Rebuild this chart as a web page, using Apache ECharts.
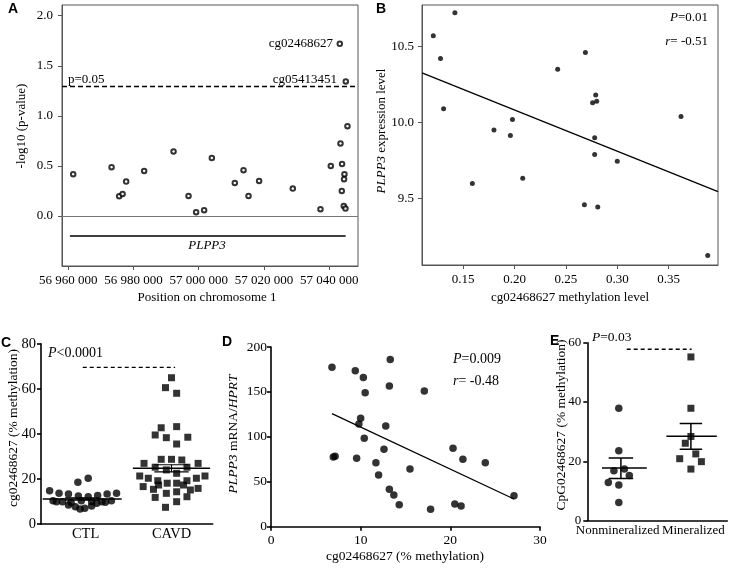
<!DOCTYPE html>
<html>
<head>
<meta charset="utf-8">
<script src="https://cdn.jsdelivr.net/npm/echarts@6/dist/echarts.min.js"></script>
<style>
  html, body { margin: 0; padding: 0; background: #fff; }
  #fig { width: 730px; height: 568px; }
</style>
</head>
<body>
<div id="fig"></div>
<script>
// ---- panel A: CpG sites along chromosome 1 ----
var aPos = [56961530, 56973290, 56975620, 56976660, 56977760, 56983280, 56992280, 56996870,
            56999200, 57001650, 57004010, 57011050, 57013720, 57015250, 57018500, 57028820,
            57037300, 57040460, 57043430, 57043830, 57043920, 57044650, 57044530, 57044440,
            57044960, 57043220, 57045060, 57045570];
var aLogP = [0.417, 0.487, 0.197, 0.22, 0.344, 0.45, 0.644, 0.2,
             0.037, 0.057, 0.58, 0.33, 0.457, 0.2, 0.35, 0.273,
             0.067, 0.5, 0.724, 0.25, 0.52, 0.417, 0.367, 0.1,
             0.074, 1.72, 1.344, 0.897];
var aPosTicks = [56960000, 56980000, 57000000, 57020000, 57040000];
var aLogTicks = [0, 0.5, 1, 1.5, 2];
var aSigLevel = 1.301;           // p = 0.05
var aGeneSpan = [56960520, 57045020];
var aGeneLevel = -0.2;

// ---- panel B: methylation vs expression ----
var bMeth = [0.142, 0.121, 0.128, 0.131, 0.180, 0.196, 0.198, 0.242, 0.269, 0.279, 0.280,
             0.276, 0.278, 0.362, 0.278, 0.300, 0.159, 0.208, 0.268, 0.281, 0.388];
var bExpr = [10.72, 10.57, 10.42, 10.09, 9.95, 9.915, 10.02, 10.35, 10.46, 10.18, 10.14,
             10.13, 9.90, 10.04, 9.79, 9.745, 9.60, 9.635, 9.46, 9.445, 9.127];
var bFitX = [0.110, 0.398];
var bFitY = [10.325, 9.547];
var bXTicks = [0.15, 0.20, 0.25, 0.30, 0.35];
var bYTicks = [9.5, 10.0, 10.5];

// ---- panel C: CTL vs CAVD ----
var cCtlX = [0.10, 0.21, 0.32, 0.43, 0.55, 0.435, 0.55, 0.66, 0.77, 0.88, 0.14, 0.25, 0.35,
             0.47, 0.59, 0.71, 0.82, 0.40, 0.455, 0.51, 0.32, 0.59, 0.65, 0.18, 0.75];
var cCtlY = [14.8, 13.6, 13.3, 18.5, 20.3, 12.4, 12.1, 12.6, 13.3, 13.6, 10.3, 9.9, 9.5,
             10.3, 9.9, 9.9, 10.3, 7.7, 6.7, 7.0, 8.4, 8.0, 9.2, 9.9, 9.6];
var cCavdX = [1.52, 1.45, 1.58, 1.40, 1.33, 1.58, 1.46, 1.71, 1.58, 1.20, 1.40, 1.52, 1.64,
              1.83, 1.33, 1.46, 1.58, 1.70, 1.15, 1.25, 1.36, 1.47, 1.58, 1.70, 1.81, 1.91,
              1.19, 1.31, 1.46, 1.58, 1.74, 1.83, 1.33, 1.58, 1.70, 1.45, 1.66, 1.37];
var cCavdY = [64.9, 60.5, 58.0, 42.7, 39.5, 43.2, 38.3, 38.5, 35.5, 26.9, 28.7, 28.7, 28.4,
              26.9, 25.2, 24.0, 22.5, 25.2, 21.3, 20.3, 19.2, 18.1, 18.1, 19.2, 20.3, 21.3,
              16.6, 15.4, 13.6, 14.3, 15.1, 15.8, 11.8, 9.9, 12.1, 7.4, 17.3, 17.3];
var cGroups = ['CTL', 'CAVD'];
var cMean = [11.1, 24.7];
var cSemLo = [10.6, 23.1];
var cSemHi = [11.6, 26.3];
var cBracket = 69.5;

// ---- panel D: methylation vs mRNA ----
var dMeth = [6.8, 9.4, 10.3, 10.5, 10.0, 9.8, 10.4, 6.95, 7.15, 9.55, 13.3, 13.2, 12.8, 12.6,
             11.7, 12.0, 13.2, 13.7, 14.3, 15.5, 17.1, 17.8, 20.3, 20.5, 21.2, 21.4, 23.9, 27.1];
var dMrna = [177.5, 173.6, 166, 149, 120.7, 114.3, 98.4, 77.5, 78.5, 76.1, 186, 156.5, 112, 86.3,
             71.3, 57.5, 41.6, 35.3, 24.3, 64.2, 151, 19.4, 87.3, 25.3, 23, 75, 71.3, 34.5];
var dFitX = [6.8, 27.1];
var dFitY = [125.8, 30.8];

// ---- panel E: nonmineralized vs mineralized ----
var eNonX = [0.45, 0.45, 0.38, 0.53, 0.60, 0.30, 0.45, 0.45];
var eNonY = [37.9, 23.6, 16.8, 17.4, 15.2, 12.9, 12.0, 6.1];
var eMinX = [1.48, 1.48, 1.48, 1.40, 1.55, 1.32, 1.63, 1.48];
var eMinY = [55.2, 37.9, 28.4, 26.1, 22.5, 20.9, 19.9, 17.4];
var eGroups = ['Nonmineralized', 'Mineralized'];
var eMean = [17.8, 28.5];
var eSemLo = [14.2, 24.1];
var eSemHi = [21.1, 32.8];
var eBracket = 57.8;

var serif = 'Liberation Serif';
var sans = 'Liberation Sans';

function zip(xs, ys) { return xs.map(function (x, i) { return [x, ys[i]]; }); }

function seg(g, xs, ys, style) {
  return {
    type: 'line', xAxisIndex: g, yAxisIndex: g, data: zip(xs, ys),
    symbol: 'none', silent: true, z: 3,
    lineStyle: Object.assign({ color: '#000', width: 1 }, style || {})
  };
}

function pts(g, xs, ys, symbol, size, itemStyle) {
  return {
    type: 'scatter', xAxisIndex: g, yAxisIndex: g, data: zip(xs, ys),
    symbol: symbol, symbolSize: size, silent: true, z: 4,
    itemStyle: itemStyle || { color: '#000' }
  };
}

function axis(g, o) {
  var col = o.color || '#000', w = o.width || 1;
  var a = {
    gridIndex: g, type: 'value', min: o.min, max: o.max,
    axisLine: { show: true, onZero: false, lineStyle: { color: col, width: w } },
    axisTick: { show: o.tick !== false, length: 4, inside: false, lineStyle: { color: col, width: w } },
    axisLabel: { fontFamily: serif, fontSize: o.fs || 13, color: '#000', margin: o.margin || 8 },
    splitLine: { show: false }
  };
  if (o.interval) a.interval = o.interval;
  if (o.ticks) { a.axisTick.customValues = o.ticks; a.axisLabel.customValues = o.ticks; }
  if (o.labels) a.axisLabel.customValues = o.labels;
  if (o.fmt) a.axisLabel.formatter = o.fmt;
  return a;
}

function txt(x, y, text, o) {
  o = o || {};
  var fs = o.fs || 13;
  return {
    type: 'text', x: x, y: y, rotation: o.rot || 0, silent: true,
    style: {
      text: text, fill: '#000', fontFamily: o.font || serif, fontSize: fs,
      fontWeight: o.bold ? 'bold' : 'normal', fontStyle: o.italic ? 'italic' : 'normal',
      align: o.align || 'left', verticalAlign: 'middle',
      rich: {
        i: { fontFamily: serif, fontSize: fs, fontStyle: 'italic', fill: '#000' },
        n: { fontFamily: serif, fontSize: fs, fill: '#000' }
      }
    }
  };
}

var spaced = function (v) { return String(v).replace(/\B(?=(\d{3})+(?!\d))/g, ' '); };

var chart = echarts.init(document.getElementById('fig'), null, { renderer: 'canvas' });

var series = [];
// A
series.push(Object.assign(pts(0, aPos, aLogP, 'emptyCircle', 4.5, { color: '#000', borderWidth: 0.8 }), {
  markLine: {
    symbol: ['none', 'none'], silent: true, label: { show: false },
    data: [
      { yAxis: 0, lineStyle: { color: '#777', type: 'solid', width: 1 } },
      { yAxis: aSigLevel, lineStyle: { color: '#000', type: [5, 3], width: 1.3 } }
    ]
  }
}));
series.push(seg(0, aGeneSpan, [aGeneLevel, aGeneLevel], { width: 1.6 }));
// B
series.push(pts(1, bMeth, bExpr, 'circle', 5));
series.push(seg(1, bFitX, bFitY, { width: 1.3 }));
// C
series.push(pts(2, cCtlX, cCtlY, 'circle', 7.5));
series.push(pts(2, cCavdX, cCavdY, 'rect', 7));
[[0.48, 0.46, 0.2], [1.52, 0.45, 0.2]].forEach(function (L, i) {
  var c = L[0];
  series.push(seg(2, [c - L[1], c + L[1]], [cMean[i], cMean[i]], { width: 1.5 }));
  series.push(seg(2, [c - L[2], c + L[2]], [cSemLo[i], cSemLo[i]], { width: 1.2 }));
  series.push(seg(2, [c - L[2], c + L[2]], [cSemHi[i], cSemHi[i]], { width: 1.2 }));
  series.push(seg(2, [c, c], [cSemLo[i], cSemHi[i]], { width: 1.2 }));
});
series.push(seg(2, [0.486, 1.562], [cBracket, cBracket], { type: [4, 3], width: 1.3 }));
// D
series.push(pts(3, dMeth, dMrna, 'circle', 7.5));
series.push(seg(3, dFitX, dFitY, { width: 1.3 }));
// E
series.push(pts(4, eNonX, eNonY, 'circle', 7.5));
series.push(pts(4, eMinX, eMinY, 'rect', 7));
[[0.53, 0.32, 0.48, 0.175], [1.49, 0.36, 1.48, 0.16]].forEach(function (L, i) {
  series.push(seg(4, [L[0] - L[1], L[0] + L[1]], [eMean[i], eMean[i]], { width: 1.5 }));
  series.push(seg(4, [L[2] - L[3], L[2] + L[3]], [eSemLo[i], eSemLo[i]], { width: 1.5 }));
  series.push(seg(4, [L[2] - L[3], L[2] + L[3]], [eSemHi[i], eSemHi[i]], { width: 1.5 }));
  series.push(seg(4, [L[2], L[2]], [eSemLo[i], eSemHi[i]], { width: 1.5 }));
});
series.push(seg(4, [0.563, 1.491], [eBracket, eBracket], { type: [4, 3], width: 1.3 }));

var option = {
  animation: false,
  backgroundColor: '#fff',
  grid: [
    { left: 62, top: 5, width: 296, height: 261, show: true, borderColor: '#555', borderWidth: 1 },
    { left: 422, top: 5, width: 296, height: 260, show: true, borderColor: '#555', borderWidth: 1 },
    { left: 41, top: 343.7, width: 171.7, height: 180.3 },
    { left: 271, top: 347, width: 269, height: 179.7 },
    { left: 587.3, top: 342.7, width: 140, height: 178 }
  ],
  xAxis: [
    axis(0, { min: 56958100, max: 57048800, ticks: aPosTicks, fmt: spaced, color: '#555', margin: 8 }),
    axis(1, { min: 0.110, max: 0.398, ticks: bXTicks, fmt: function (v) { return v.toFixed(2); }, color: '#555', margin: 8 }),
    axis(2, { min: 0, max: 2, tick: false, labels: [0.52, 1.52], fs: 14.5, width: 1.6, margin: 3,
              fmt: function (v) { return v < 1 ? cGroups[0] : cGroups[1]; } }),
    axis(3, { min: 0, max: 30, interval: 10, fs: 13.5, width: 1.6, margin: 7 }),
    axis(4, { min: 0, max: 2, tick: false, labels: [0.434, 1.514], fs: 13, width: 1.6, margin: 3,
              fmt: function (v) { return v < 1 ? eGroups[0] : eGroups[1]; } })
  ],
  yAxis: [
    axis(0, { min: -0.5, max: 2.107, ticks: aLogTicks, fmt: function (v) { return v.toFixed(1); }, color: '#555', margin: 9 }),
    axis(1, { min: 9.065, max: 10.771, ticks: bYTicks, fmt: function (v) { return v.toFixed(1); }, color: '#555', margin: 8 }),
    axis(2, { min: 0, max: 80, interval: 20, fs: 14.5, width: 1.6, margin: 5 }),
    axis(3, { min: 0, max: 200, interval: 50, fs: 13.5, width: 1.6, margin: 4 }),
    axis(4, { min: 0, max: 60, interval: 20, fs: 13, width: 1.6, margin: 6 })
  ],
  series: series,
  graphic: [
    // panel letters
    txt(8, 9, 'A', { font: sans, bold: true, fs: 14 }),
    txt(376, 9, 'B', { font: sans, bold: true, fs: 14 }),
    txt(1, 343, 'C', { font: sans, bold: true, fs: 14 }),
    txt(222, 342, 'D', { font: sans, bold: true, fs: 14 }),
    txt(550, 341, 'E', { font: sans, bold: true, fs: 14 }),
    // A
    txt(22, 126, '-log10 (p-value)', { rot: Math.PI / 2, align: 'center' }),
    txt(207, 298, 'Position on chromosome 1', { align: 'center' }),
    txt(333, 44, 'cg02468627', { align: 'right' }),
    txt(337, 80, 'cg05413451', { align: 'right' }),
    txt(68, 80, 'p=0.05'),
    txt(207, 246, 'PLPP3', { align: 'center', italic: true }),
    // B
    txt(382, 131, '{i|PLPP3} expression level', { rot: Math.PI / 2, align: 'center' }),
    txt(570, 298, 'cg02468627 methylation level', { align: 'center' }),
    txt(708, 18, '{i|P}=0.01', { align: 'right' }),
    txt(708, 42, '{i|r}= -0.51', { align: 'right' }),
    // C
    txt(13, 428, 'cg02468627 (% methylation)', { rot: Math.PI / 2, align: 'center', fs: 13.5 }),
    txt(48, 353, '{i|P}<0.0001', { fs: 14 }),
    // D
    txt(233, 434, '{i|PLPP3} mRNA/{i|HPRT}', { rot: Math.PI / 2, align: 'center', fs: 13.5 }),
    txt(405, 556, 'cg02468627 (% methylation)', { align: 'center', fs: 13.5 }),
    txt(453, 359, '{i|P}=0.009', { fs: 14 }),
    txt(453, 381, '{i|r}= -0.48', { fs: 14 }),
    // E
    txt(561, 425, 'CpG02468627 (% methylation)', { rot: Math.PI / 2, align: 'center', fs: 13.5 }),
    txt(592, 337, '{i|P}=0.03', { fs: 13.5 })
  ]
};

chart.setOption(option);
</script>
</body>
</html>
